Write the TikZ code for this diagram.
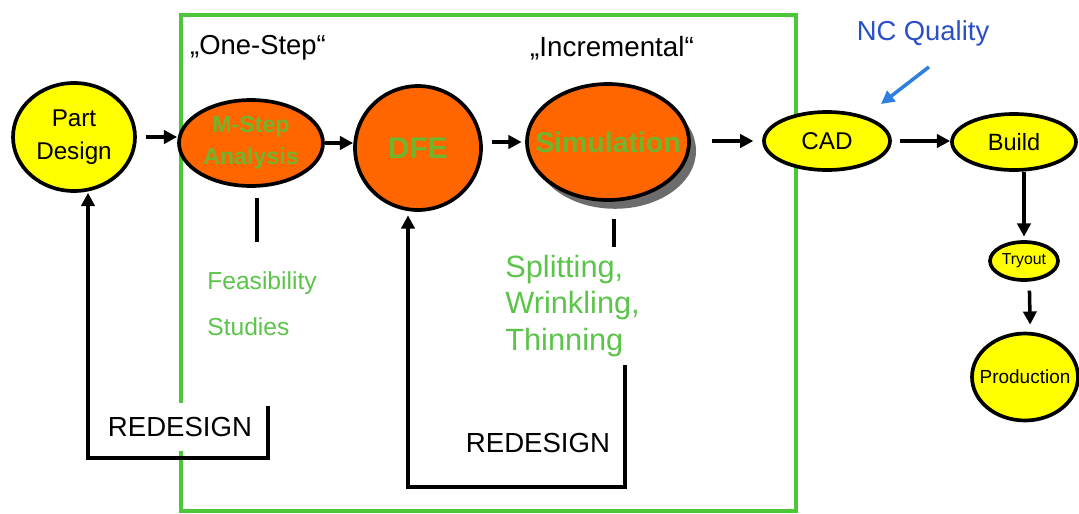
\documentclass[tikz,border=0pt]{standalone}
\usepackage{fontspec}
\setmainfont{Liberation Sans}
\usetikzlibrary{shapes.geometric,arrows.meta,shadows}

\definecolor{stageyellow}{HTML}{FFFF00}
\definecolor{stageorange}{HTML}{FF6600}
\definecolor{framegreen}{HTML}{4DC63A}
\definecolor{notegreen}{HTML}{5CC44A}
\definecolor{innergreen}{HTML}{6FB52E}
\definecolor{ncblue}{HTML}{2A4FC8}
\definecolor{ncarrow}{HTML}{2F7FE0}

\begin{document}
\begin{tikzpicture}[x=0.02cm,y=-0.02cm,
  stage/.style={ellipse, draw=black, line width=2.1pt, inner sep=0pt},
  yel/.style={stage, fill=stageyellow},
  org/.style={stage, fill=stageorange},
  ytext/.style={align=center, text=black, inner sep=0pt},
  otext/.style={align=center, text=innergreen, inner sep=0pt},
  tip/.style={-{Triangle[length=7.5pt,width=7.5pt]}},
  arr/.style={line width=2pt, tip},
  loopline/.style={line width=2.8pt, tip},
  bar/.style={line width=2.8pt},
  note/.style={text=notegreen, inner sep=0pt},
  redesign/.style={fill=white, inner xsep=2pt, minimum height=0.96cm, font=\fontsize{15.7}{18}\selectfont},
  frame/.style={draw=framegreen, line width=2.3pt}
]
\useasboundingbox (0,0) rectangle (1079,514);
\fill[white] (0,0) rectangle (1079,514);

% the simulation frame
\draw[frame] (181,15) rectangle (796,511);

% stages (the ellipse size is fixed, the text sits on top as a centred label)
\node[yel, minimum width=2.44cm, minimum height=2.16cm,
      label={[ytext, font=\fontsize{13.8}{19}\selectfont]center:Part\\Design}] (pd) at (74,137) {};
\node[org, minimum width=2.88cm, minimum height=1.72cm,
      label={[otext, font=\bfseries\fontsize{13.2}{18}\selectfont]center:M-Step\\Analysis}] (ms) at (251,143) {};
\node[org, minimum width=2.52cm, minimum height=2.48cm,
      label={[otext, font=\bfseries\fontsize{17}{20}\selectfont]center:DFE}] (dfe) at (418,148) {};
\node[org, minimum width=3.24cm, minimum height=2.32cm,
      drop shadow={shadow xshift=4pt, shadow yshift=-5pt, fill=gray!85!black, opacity=1},
      label={[otext, font=\bfseries\fontsize{16.2}{20}\selectfont]center:Simulation}] (sim) at (608,142) {};
\node[yel, minimum width=2.52cm, minimum height=1.16cm,
      label={[ytext, font=\fontsize{13.8}{16}\selectfont]center:CAD}] (cad) at (827,141) {};
\node[yel, minimum width=2.48cm, minimum height=1.12cm,
      label={[ytext, font=\fontsize{13.4}{16}\selectfont]center:Build}] (build) at (1014,142) {};
\node[yel, minimum width=1.36cm, minimum height=0.76cm,
      label={[ytext, font=\fontsize{9}{10}\selectfont]center:Tryout}] (tryout) at (1024,261) {};
\node[yel, minimum width=2.12cm, minimum height=1.74cm,
      label={[ytext, font=\fontsize{10.8}{12}\selectfont]center:Production}] (prod) at (1025,377) {};

% headings
\node[font=\fontsize{15.6}{18}\selectfont] (onestep) at (258,48) {„One-Step“};
\node[font=\fontsize{15.8}{18}\selectfont] (incr) at (612,48) {„Incremental“};
\node[text=ncblue, font=\fontsize{15.6}{18}\selectfont] (nc) at (923,33) {NC Quality};

% notes
\node[note, anchor=base west, font=\fontsize{14}{16}\selectfont] (feas) at (207,289) {Feasibility};
\node[note, anchor=base west, font=\fontsize{14}{16}\selectfont] (stud) at (207,335) {Studies};
\node[note, anchor=west, align=left, font=\fontsize{17.5}{21}\selectfont] (split) at (505,306) {Splitting,\\Wrinkling,\\Thinning};

% main flow
\draw[arr, shorten <=5.5pt] (pd.east) -- (pd.east -| ms.west);
\draw[arr] (ms.east) -- (ms.east -| dfe.west);
\draw[arr, shorten <=5pt, shorten >=2pt] (sim.west -| dfe.east) -- (sim.west);
\draw[arr, shorten <=12pt, shorten >=5pt] (cad.west -| sim.east) -- (cad.west);
\draw[arr, shorten <=4.5pt] (cad.east) -- (cad.east -| build.west);
\draw[arr, shorten >=2pt] (tryout.north |- build.south) -- (tryout.north);
\draw[arr, shorten <=5pt, shorten >=4pt] ([xshift=3pt]tryout.south) -- ([xshift=3pt]prod.north);

% NC quality pointer
\coordinate (ncend) at (881,104);
\draw[draw=ncarrow, line width=2pt, tip] ([shift={(3.4pt,-8.5pt)}]nc.south) -- (ncend);

% result bars
\coordinate (feasbar) at (257,242);
\draw[bar, shorten <=6pt] (ms.south -| feasbar) -- (feasbar);
\coordinate (splitbar) at (614,247);
\draw[bar, shorten <=10pt] (sim.south -| splitbar) -- (splitbar);

% redesign loops
\coordinate (r1top) at (268,406);
\coordinate (r1left) at (88,458);
\draw[loopline] (r1top) |- (r1left) -- (r1left |- pd.south);
\node[redesign] (rd1) at (180,427) {REDESIGN};

\coordinate (r2top) at (625,365);
\coordinate (r2left) at (408,487);
\draw[loopline, shorten >=2pt] (r2top) |- (r2left) -- (r2left |- dfe.south);
\node[redesign] (rd2) at (538,443) {REDESIGN};
\end{tikzpicture}
\end{document}
